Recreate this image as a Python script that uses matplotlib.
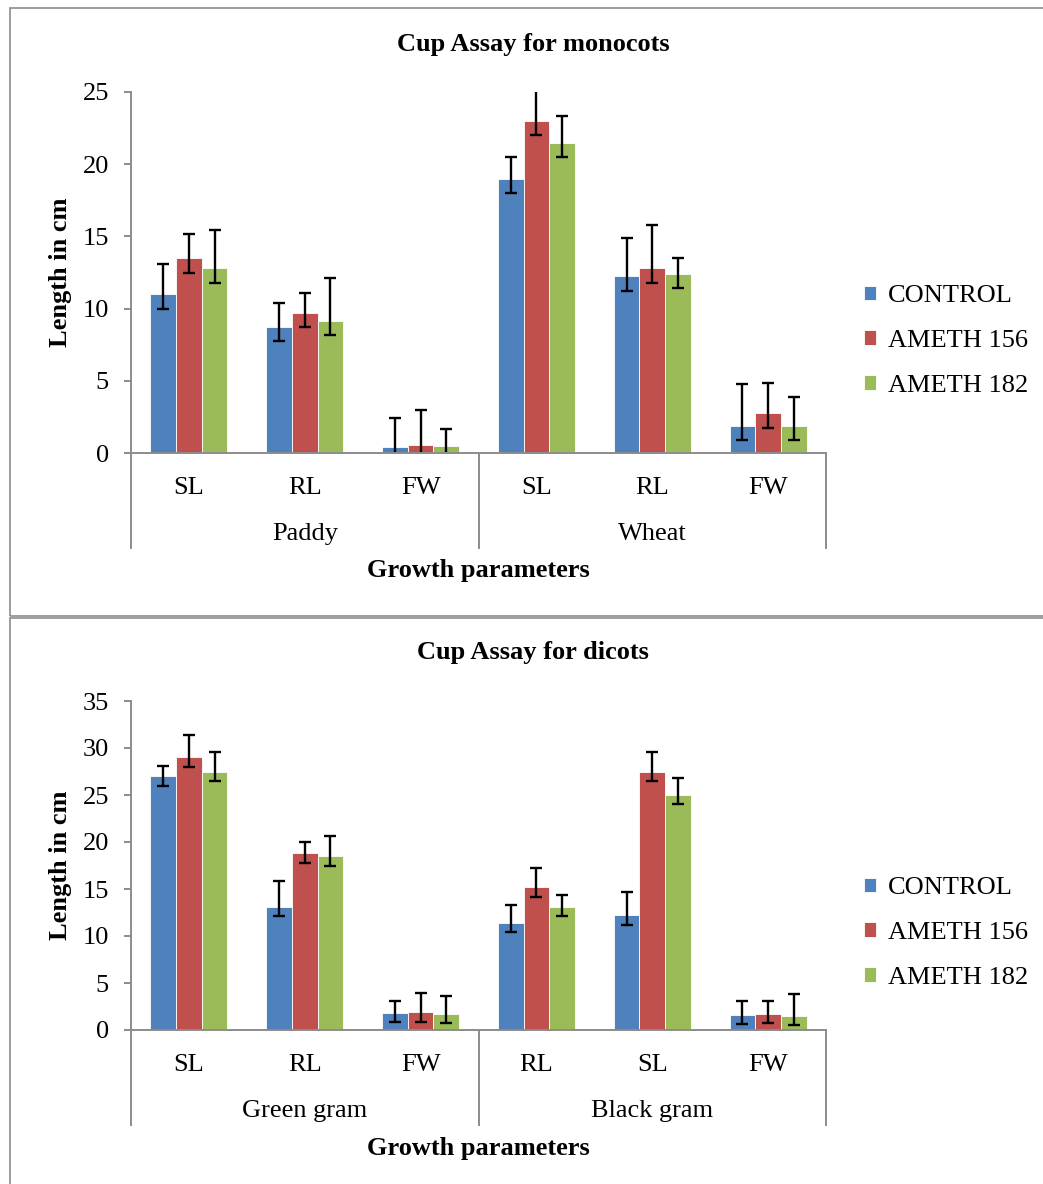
import numpy as np
import matplotlib
matplotlib.use('Agg')
import matplotlib.pyplot as plt
from matplotlib.patches import Rectangle

plt.rcParams['font.family'] = ['Liberation Serif', 'DejaVu Serif']

# Data
series = ['CONTROL', 'AMETH 156', 'AMETH 182']
colors = ['#4F81BD', '#C0504D', '#9BBB59']

mono_params = ['SL', 'RL', 'FW', 'SL', 'RL', 'FW']
mono_groups = ['Paddy', 'Wheat']
mono_control = [11.0, 8.75, 0.4, 19.0, 12.25, 1.9]
mono_a156 = [13.5, 9.7, 0.55, 23.0, 12.8, 2.75]
mono_a182 = [12.8, 9.15, 0.5, 21.5, 12.4, 1.9]
mono_up_control = [2.1, 1.65, 2.0, 1.5, 2.65, 2.85]
mono_up_a156 = [1.7, 1.35, 2.45, 2.5, 3.0, 2.1]
mono_up_a182 = [2.65, 2.95, 1.15, 1.85, 1.1, 2.0]

dic_params = ['SL', 'RL', 'FW', 'RL', 'SL', 'FW']
dic_groups = ['Green gram', 'Black gram']
dic_control = [27.0, 13.1, 1.8, 11.4, 12.2, 1.6]
dic_a156 = [29.0, 18.8, 1.9, 15.2, 27.5, 1.7]
dic_a182 = [27.5, 18.5, 1.75, 13.1, 25.0, 1.5]
dic_up_control = [1.05, 2.75, 1.3, 1.95, 2.45, 1.5]
dic_up_a156 = [2.4, 1.2, 2.0, 2.05, 2.05, 1.4]
dic_up_a182 = [2.05, 2.1, 1.9, 1.25, 1.85, 2.35]
err_low = 1.0

W, H = 1043, 1184
fig = plt.figure(figsize=(W / 100, H / 100), dpi=100)
gray = '#8c8c8c'
fs = 19

# panel borders
fig.add_artist(Rectangle((10 / W, 1 - 616 / H), 1.2, 608 / H, transform=fig.transFigure,
                         fill=False, ec=gray, lw=1.2))
fig.add_artist(Rectangle((10 / W, -0.1), 1.2, 0.1 + (H - 618) / H, transform=fig.transFigure,
                         fill=False, ec=gray, lw=1.2))


def panel(top, bottom, title, params, groups, vals, ups, ymax, leg_y):
    ax = fig.add_axes([131 / W, 1 - bottom / H, 695 / W, (bottom - top) / H])
    hpx = bottom - top
    x = np.arange(len(params))
    w = 0.222
    for i, (v, u) in enumerate(zip(vals, ups)):
        xs = x + (i - 1) * w
        ax.bar(xs, v, w, color=colors[i], edgecolor='white', linewidth=0.6, label=series[i])
        ax.errorbar(xs, v, yerr=[[err_low] * len(v), u], fmt='none', ecolor='black',
                    elinewidth=1.7, capsize=4.5, capthick=1.7)
    ax.set_xlim(-0.5, len(params) - 0.5)
    ax.set_ylim(0, ymax)
    ax.set_yticks(np.arange(0, ymax + 1, 5))
    ax.set_xticks(x)
    ax.set_xticklabels(params, fontsize=fs)
    ax.tick_params(axis='x', length=0, pad=17)
    ax.tick_params(axis='y', length=5, width=1.4, color=gray, pad=11, labelsize=fs)
    for s in ['top', 'right']:
        ax.spines[s].set_visible(False)
    for s in ['left', 'bottom']:
        ax.spines[s].set_color(gray)
        ax.spines[s].set_linewidth(1.4)
    # group separators
    for xf in [0, 0.5, 1]:
        ax.plot([xf, xf], [0, -95 / hpx], transform=ax.transAxes, color=gray, lw=1.4,
                clip_on=False)
    for j, g in enumerate(groups):
        ax.text(0.25 + 0.5 * j, -81 / hpx, g, transform=ax.transAxes, ha='center',
                va='center', fontsize=fs)
    ax.text(0.5, -118 / hpx, 'Growth parameters', transform=ax.transAxes, ha='center',
            va='center', fontsize=fs, fontweight='bold')
    ax.set_ylabel('Length in cm', fontsize=fs, fontweight='bold', va='center')
    ax.yaxis.set_label_coords(-71 / 695, 0.5)
    fig.text(533 / W, 1 - (top - 48) / H, title, ha='center', va='center',
             fontsize=fs, fontweight='bold')
    ax.legend(loc='upper left', bbox_to_anchor=(864 / W, 1 - leg_y / H),
              bbox_transform=fig.transFigure, frameon=False, fontsize=fs,
              handlelength=0.45, handleheight=0.45, handletextpad=0.45,
              labelspacing=0.87, borderpad=0, borderaxespad=0)
    return ax


panel(92, 453, 'Cup Assay for monocots', mono_params, mono_groups,
      [mono_control, mono_a156, mono_a182],
      [mono_up_control, mono_up_a156, mono_up_a182], 25, 285)
panel(701, 1030, 'Cup Assay for dicots', dic_params, dic_groups,
      [dic_control, dic_a156, dic_a182],
      [dic_up_control, dic_up_a156, dic_up_a182], 35, 877)

fig.savefig('out.png', dpi=100)
